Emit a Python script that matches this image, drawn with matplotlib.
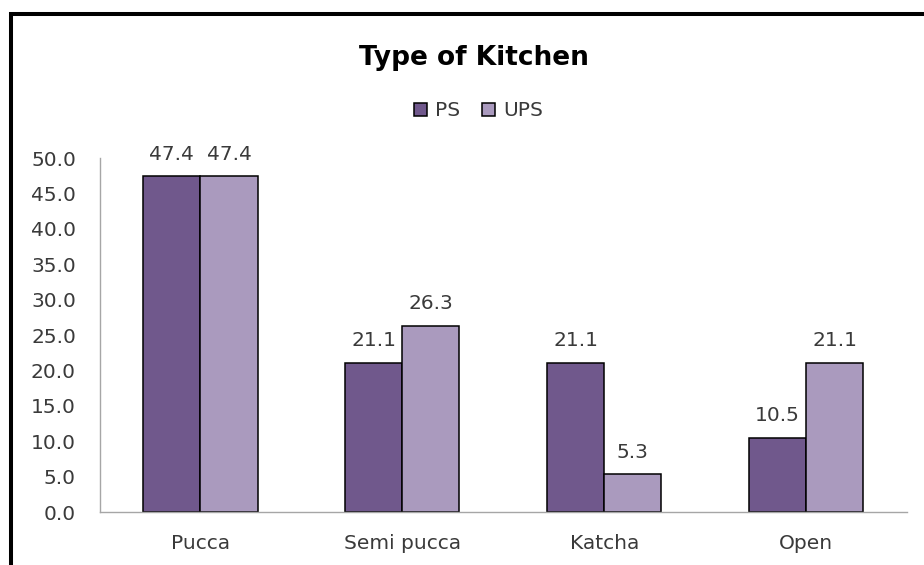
import matplotlib.pyplot as plt
import numpy as np
from matplotlib.patches import Rectangle

# Datos del gráfico
categorias = ["Pucca", "Semi pucca", "Katcha", "Open"]
valores_ps = [47.4, 21.1, 21.1, 10.5]
valores_ups = [47.4, 26.3, 5.3, 21.1]
series = ["PS", "UPS"]
ticks_y = [0, 5, 10, 15, 20, 25, 30, 35, 40, 45, 50]

color_ps = "#70588C"
color_ups = "#AA9ABE"
color_texto = "#3A3A3A"

plt.rcParams["font.family"] = ["DejaVu Sans"]

fig = plt.figure(figsize=(9.24, 5.65), dpi=100)
ax = fig.add_axes([0.1077, 0.0938, 0.8739, 0.6265])

x = np.arange(len(categorias))
ancho = 0.283

barras_ps = ax.bar(x - ancho / 2, valores_ps, ancho, color=color_ps,
                   edgecolor="black", linewidth=1.1, label=series[0])
barras_ups = ax.bar(x + ancho / 2, valores_ups, ancho, color=color_ups,
                    edgecolor="black", linewidth=1.1, label=series[1])

for barras in (barras_ps, barras_ups):
    ax.bar_label(barras, fmt="%.1f", padding=9, fontsize=14.5, color=color_texto)

ax.set_xlim(-0.5, len(categorias) - 0.5)
ax.set_ylim(0, 50)
ax.set_yticks(ticks_y)
ax.set_yticklabels([f"{v:.1f}" for v in ticks_y])
ax.set_xticks(x)
ax.set_xticklabels(categorias)
ax.tick_params(axis="y", length=0, pad=17, labelsize=14.5, labelcolor=color_texto)
ax.tick_params(axis="x", length=0, pad=16, labelsize=14.5, labelcolor=color_texto)

for lado in ("top", "right"):
    ax.spines[lado].set_visible(False)
for lado in ("left", "bottom"):
    ax.spines[lado].set_color("#A6A6A6")
    ax.spines[lado].set_linewidth(1.0)

# Título y leyenda
fig.text(0.513, 1 - 65 / 565, "Type of Kitchen", ha="center", va="baseline",
         fontsize=19, fontweight="bold", color="black")
fig.legend(loc="center", bbox_to_anchor=(0.518, 1 - 111 / 565), ncol=2,
           frameon=False, fontsize=14.5, handlelength=0.65, handleheight=0.65,
           handletextpad=0.4, columnspacing=1.1, labelcolor=color_texto)

# Borde negro del recorte (izquierda y arriba)
borde = Rectangle((11 / 924, -0.1), 1.2, (1 - 14 / 565) + 0.1,
                  transform=fig.transFigure, fill=False, edgecolor="black",
                  linewidth=2.9, clip_on=False)
fig.add_artist(borde)

fig.savefig("out.png", dpi=100)
